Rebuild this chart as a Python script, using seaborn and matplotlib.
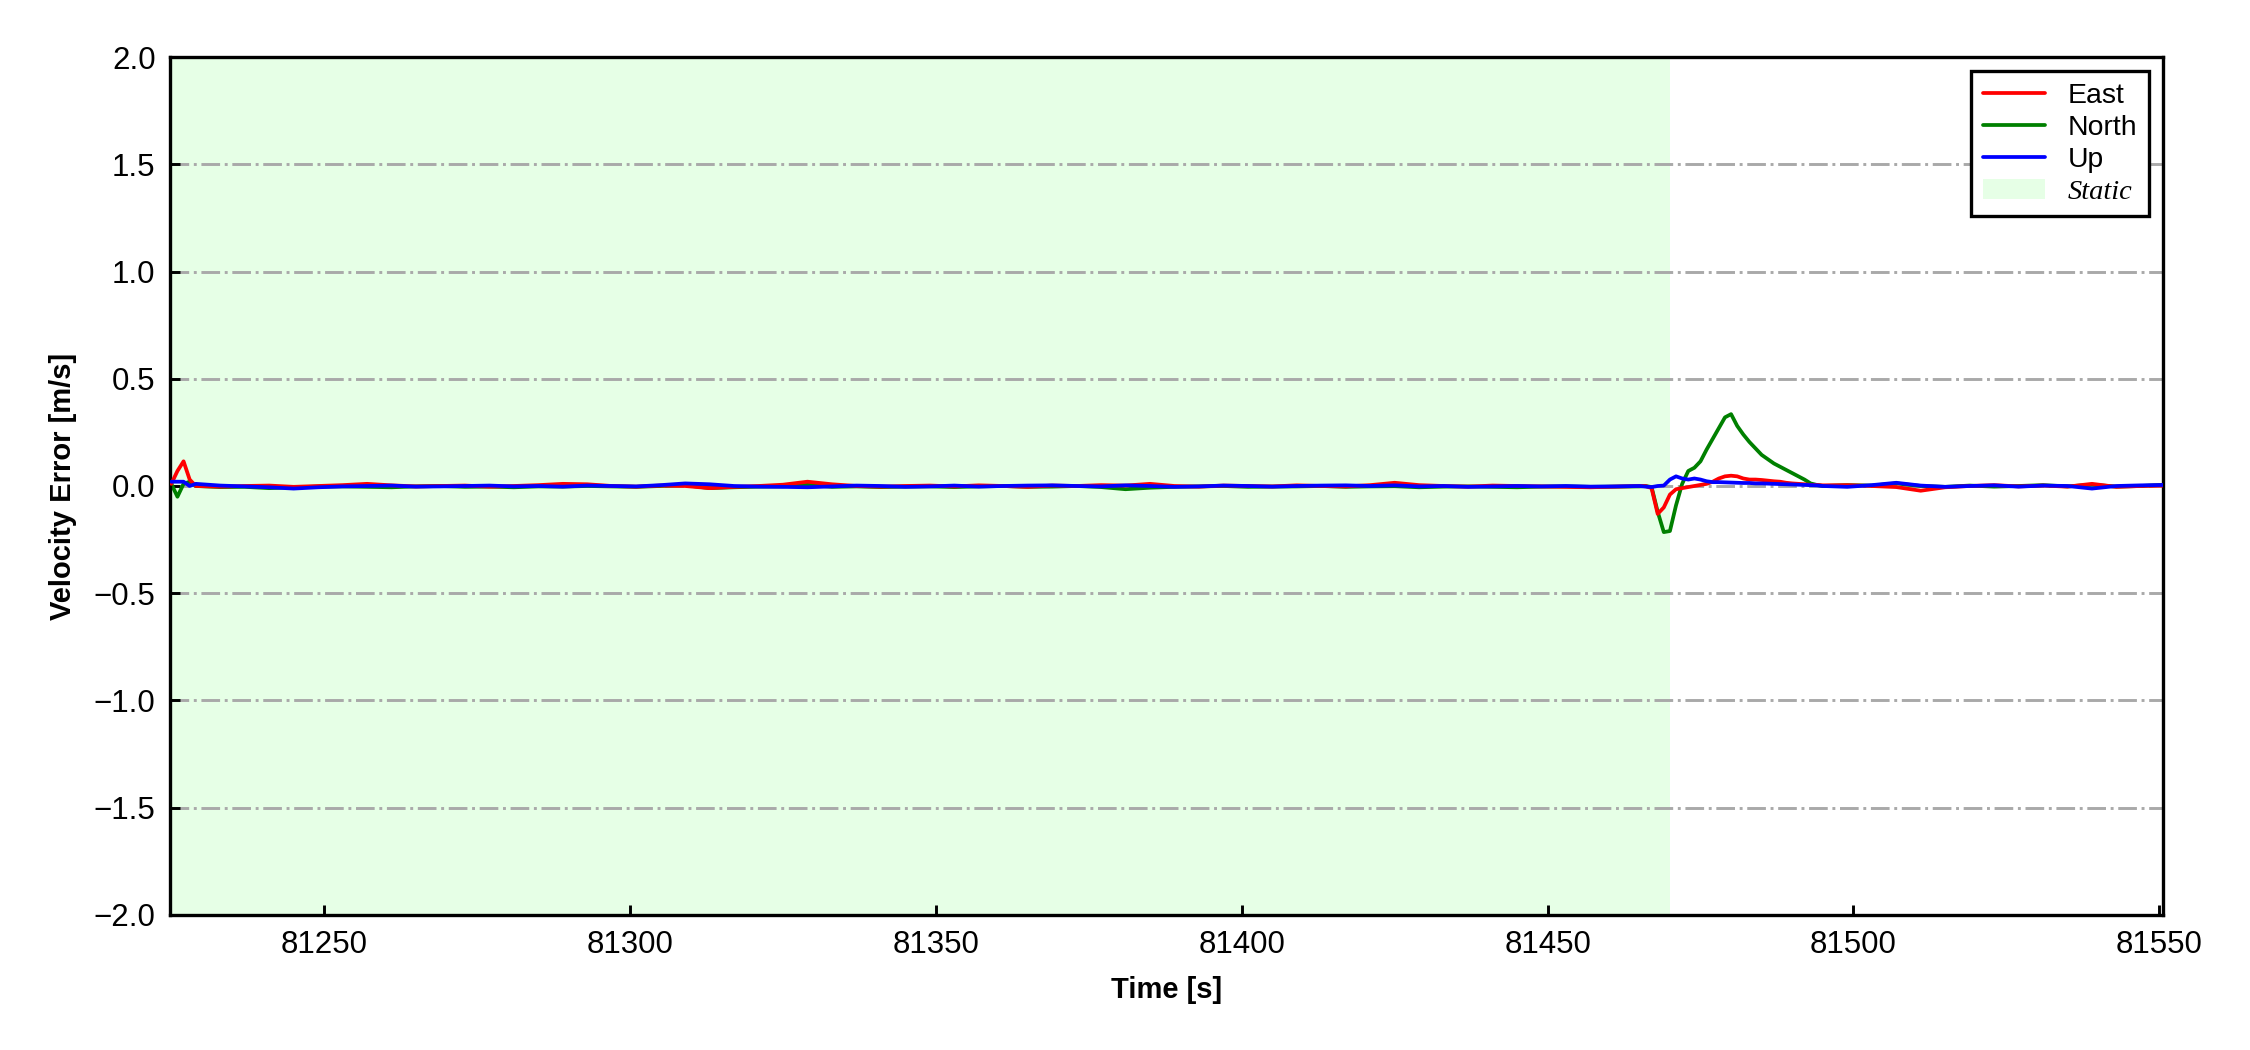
import numpy as np
import pandas as pd
import seaborn as sns
import matplotlib.pyplot as plt
from matplotlib.patches import Patch
from matplotlib.lines import Line2D

# time stamps [s]
time = [81225, 81226, 81227, 81228, 81229,
        81233, 81237, 81241, 81245, 81249, 81253, 81257, 81261, 81265, 81269,
        81273, 81277, 81281, 81285, 81289, 81293, 81297, 81301, 81305, 81309,
        81313, 81317, 81321, 81325, 81329, 81333, 81337, 81341, 81345, 81349,
        81353, 81357, 81361, 81365, 81369, 81373, 81377, 81381, 81385, 81389,
        81393, 81397, 81401, 81405, 81409, 81413, 81417, 81421, 81425, 81429,
        81433, 81437, 81441, 81445, 81449, 81453, 81457, 81461, 81465,
        81466, 81467, 81468, 81469, 81470, 81471, 81472, 81473, 81474, 81475,
        81476, 81477, 81478, 81479, 81480, 81481, 81482, 81483, 81484, 81485,
        81486, 81487, 81488, 81489, 81490, 81491, 81492, 81493, 81494, 81495,
        81499, 81503, 81507, 81511, 81515, 81519, 81523, 81527, 81531, 81535,
        81539, 81543, 81547, 81551]

east = [0.01, 0.07, 0.115, 0.03, 0.0,
        -0.003, 0.0, 0.002, -0.004, 0.0, 0.004, 0.01, 0.003, -0.002, 0.0,
        0.002, -0.003, 0.0, 0.004, 0.01, 0.008, 0.0, -0.003, 0.002, 0.0,
        -0.01, -0.004, 0.0, 0.006, 0.02, 0.008, 0.0, -0.003, 0.0, 0.002,
        -0.002, 0.003, 0.0, -0.004, 0.002, 0.0, 0.004, 0.002, 0.01, 0.0,
        -0.003, 0.002, 0.0, -0.002, 0.003, 0.0, -0.002, 0.004, 0.015, 0.004,
        0.0, -0.003, 0.002, 0.0, -0.002, -0.004, -0.006, -0.003, 0.0,
        0.0, -0.01, -0.13, -0.10, -0.04, -0.015, -0.01, -0.005, 0.0, 0.005,
        0.01, 0.02, 0.035, 0.045, 0.048, 0.045, 0.035, 0.03, 0.03, 0.028,
        0.025, 0.022, 0.02, 0.015, 0.012, 0.01, 0.008, 0.005, 0.005, 0.003,
        0.004, 0.0, -0.005, -0.022, -0.006, 0.0, 0.004, -0.002, 0.002, -0.003,
        0.01, -0.004, 0.0, 0.002]

north = [0.01, -0.05, 0.01, 0.02, 0.0,
         -0.005, -0.004, -0.01, -0.006, -0.003, -0.002, -0.004, -0.006, -0.002, 0.0,
         -0.004, -0.003, -0.006, -0.002, -0.003, 0.0, -0.002, -0.004, 0.0, 0.004,
         -0.01, -0.006, -0.003, -0.002, 0.006, -0.004, -0.002, -0.005, -0.003, -0.002,
         -0.005, -0.002, 0.0, -0.004, -0.003, 0.0, -0.005, -0.015, -0.008, -0.004,
         -0.002, 0.0, -0.004, -0.003, -0.002, 0.0, -0.004, -0.002, -0.001, -0.006,
         -0.003, -0.002, -0.004, -0.006, -0.003, -0.002, -0.004, -0.003, -0.002,
         0.0, -0.005, -0.12, -0.215, -0.21, -0.09, 0.01, 0.07, 0.085, 0.115,
         0.17, 0.22, 0.27, 0.32, 0.335, 0.28, 0.24, 0.205, 0.175, 0.145,
         0.125, 0.105, 0.09, 0.075, 0.06, 0.045, 0.03, 0.012, 0.005, 0.0,
         0.004, 0.002, 0.012, 0.0, -0.004, 0.002, -0.003, 0.0, 0.004, -0.002,
         0.006, -0.003, 0.0, 0.006]

up = [0.02, 0.02, 0.02, 0.0, 0.01,
      0.002, -0.002, -0.006, -0.012, -0.006, -0.002, 0.0, 0.002, -0.003, -0.002,
      0.0, 0.002, -0.002, 0.0, -0.003, 0.002, 0.0, -0.002, 0.004, 0.012,
      0.008, 0.0, -0.003, -0.004, -0.006, -0.002, 0.002, 0.0, -0.004, -0.002,
      0.002, -0.003, 0.0, 0.002, 0.003, 0.0, -0.002, 0.003, 0.0, -0.004,
      -0.002, 0.002, 0.0, -0.003, 0.0, 0.002, 0.003, 0.0, 0.003, -0.002,
      0.0, -0.004, -0.002, 0.0, -0.002, 0.0, -0.003, -0.002, 0.0,
      -0.003, -0.005, 0.0, 0.002, 0.03, 0.045, 0.035, 0.03, 0.035, 0.03,
      0.022, 0.018, 0.018, 0.017, 0.016, 0.015, 0.014, 0.014, 0.012, 0.012,
      0.011, 0.01, 0.009, 0.008, 0.007, 0.006, 0.005, 0.004, 0.003, 0.0,
      -0.004, 0.004, 0.015, 0.002, -0.004, 0.0, 0.003, -0.003, 0.002, 0.0,
      -0.012, 0.0, 0.003, 0.005]

static_end = 81470

df = pd.DataFrame({'Time': time, 'East': east, 'North': north, 'Up': up})

sns.set_style('ticks')
plt.rcParams['font.family'] = ['Liberation Sans', 'DejaVu Sans']
plt.rcParams['text.color'] = 'black'
plt.rcParams['axes.labelcolor'] = 'black'
plt.rcParams['xtick.color'] = 'black'
plt.rcParams['ytick.color'] = 'black'

fig = plt.figure(figsize=(7.5, 3.5), dpi=300)
ax = fig.add_axes([0.0756, 0.1286, 0.8857, 0.8171])

ax.axvspan(81224.8, static_end, color=(0.9, 1.0, 0.9), lw=0, zorder=0)

sns.lineplot(data=df, x='Time', y='East', color='red', lw=0.9, ax=ax, zorder=3)
sns.lineplot(data=df, x='Time', y='North', color='green', lw=0.9, ax=ax, zorder=2)
sns.lineplot(data=df, x='Time', y='Up', color='blue', lw=0.9, ax=ax, zorder=4)

ax.set_xlim(81224.8, 81550.6)
ax.set_ylim(-2, 2)
ax.set_yticks(np.arange(-2, 2.01, 0.5))
ax.set_xticks([81250, 81300, 81350, 81400, 81450, 81500, 81550])
ax.yaxis.grid(True, ls='-.', color='darkgray', lw=0.7, zorder=1)
ax.set_axisbelow(True)
ax.tick_params(direction='in', length=2.5, width=0.7, labelsize=7.5,
               colors='black')
for s in ax.spines.values():
    s.set_linewidth(0.8)
    s.set_color('black')

ax.set_xlabel('Time [s]', fontsize=7, fontweight='bold', color='black')
ax.set_ylabel('Velocity Error [m/s]', fontsize=7, fontweight='bold', color='black')

handles = [Line2D([], [], color='red', lw=0.9),
           Line2D([], [], color='green', lw=0.9),
           Line2D([], [], color='blue', lw=0.9),
           Patch(facecolor=(0.9, 1.0, 0.9), edgecolor='none')]
leg = ax.legend(handles, ['East', 'North', 'Up', 'Static'], loc='upper right',
                fontsize=6.8, fancybox=False, edgecolor='black', framealpha=1,
                labelspacing=0.22, handlelength=2.2, borderaxespad=0.5)
leg.get_frame().set_linewidth(0.8)
for t in leg.get_texts():
    t.set_color('black')
leg.get_texts()[3].set_fontfamily(['Liberation Serif'])
leg.get_texts()[3].set_fontstyle('italic')

fig.savefig('out.png', dpi=300)
